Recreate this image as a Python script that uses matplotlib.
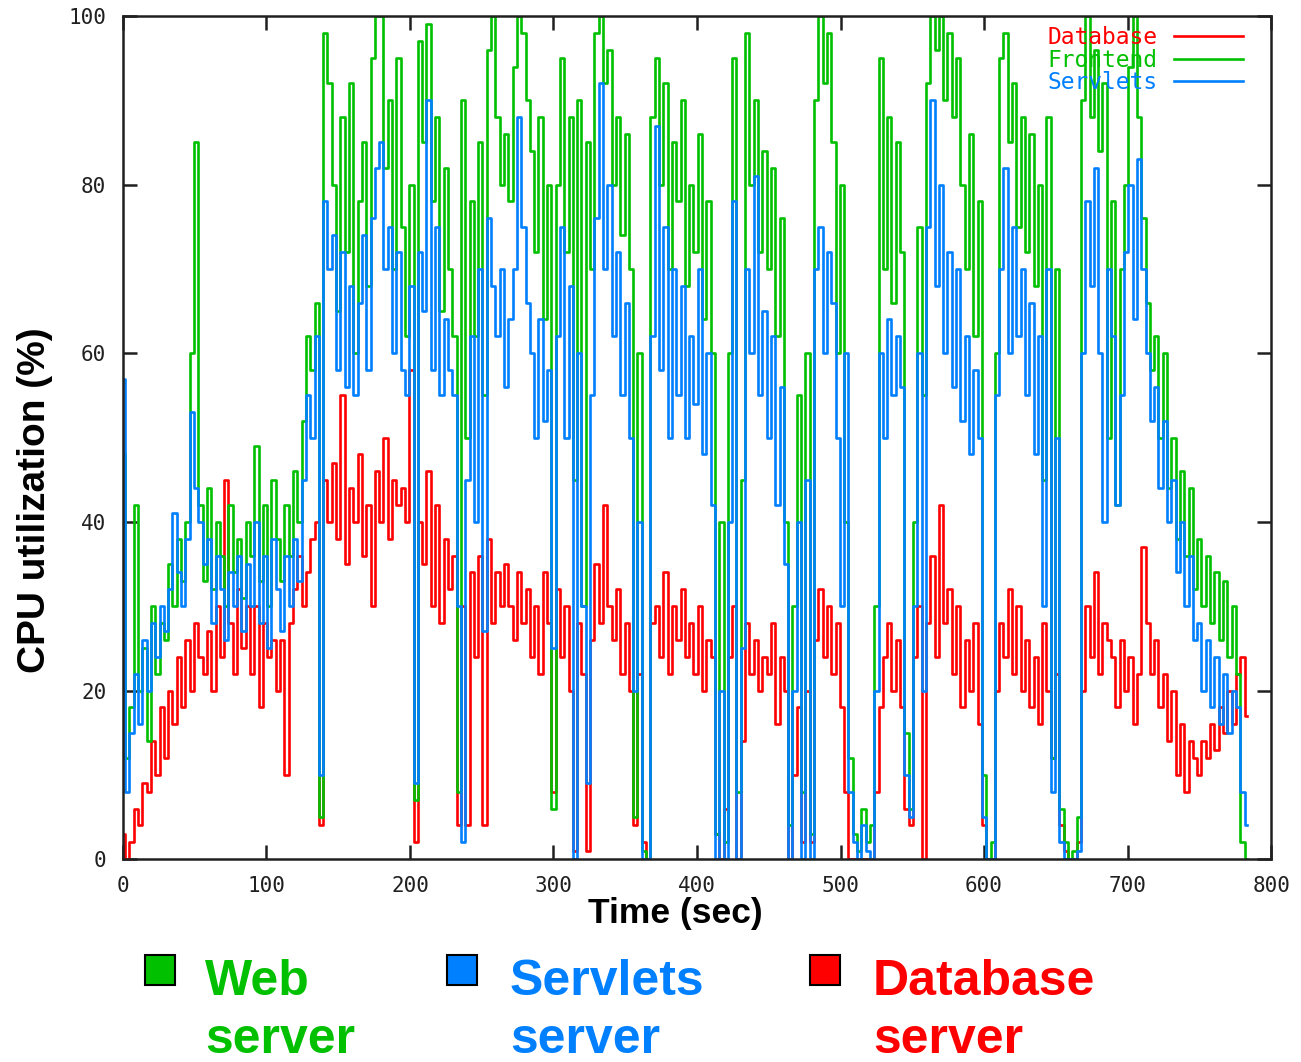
import numpy as np
import matplotlib
matplotlib.use("Agg")
import matplotlib.pyplot as plt
from matplotlib.patches import Rectangle

# CPU utilization samples, one value every 3 seconds
step = 3

frontend = [
    48, 12, 18, 42, 20, 25, 14, 30, 22, 28,
    26, 35, 30, 38, 33, 40, 60, 85, 42, 33,
    44, 32, 40, 36, 30, 42, 34, 38, 31, 40,
    36, 49, 33, 42, 30, 45, 38, 33, 42, 36,
    46, 40, 52, 62, 58, 66, 5, 98, 92, 80,
    65, 88, 72, 92, 60, 78, 85, 68, 95, 100,
    100, 82, 90, 70, 95, 75, 62, 80, 7, 97,
    85, 99, 78, 88, 65, 82, 70, 62, 8, 90,
    50, 78, 62, 85, 55, 96, 100, 88, 80, 86,
    78, 94, 100, 98, 90, 84, 72, 88, 64, 80,
    6, 80, 95, 72, 88, 45, 90, 30, 85, 70,
    98, 100, 92, 96, 80, 88, 74, 86, 70, 5,
    60, 1, 0, 88, 95, 80, 92, 70, 85, 78,
    90, 68, 80, 72, 86, 64, 78, 60, 3, 40,
    2, 60, 95, 8, 45, 98, 80, 90, 72, 84,
    70, 82, 62, 76, 40, 4, 30, 55, 8, 60,
    3, 90, 100, 92, 98, 85, 60, 80, 40, 12,
    3, 1, 6, 2, 4, 30, 95, 70, 88, 66,
    85, 72, 15, 6, 40, 75, 55, 92, 100, 96,
    100, 90, 98, 88, 95, 80, 70, 86, 62, 78,
    10, 0, 2, 60, 95, 98, 85, 92, 75, 88,
    72, 86, 68, 80, 45, 88, 12, 70, 6, 2,
    0, 1, 5, 90, 100, 88, 96, 84, 92, 50,
    78, 42, 70, 80, 94, 100, 88, 76, 66, 58,
    62, 50, 60, 44, 50, 38, 46, 36, 44, 32,
    38, 30, 36, 28, 34, 26, 33, 24, 30, 22,
    2, 0,
]

servlets = [
    57, 8, 15, 22, 16, 26, 20, 28, 24, 30,
    27, 32, 41, 34, 30, 38, 53, 44, 40, 35,
    38, 28, 36, 32, 26, 34, 30, 36, 27, 35,
    30, 40, 28, 36, 25, 38, 32, 27, 36, 30,
    38, 33, 45, 55, 50, 62, 10, 78, 70, 74,
    58, 72, 56, 68, 55, 66, 74, 58, 76, 82,
    85, 70, 75, 60, 72, 58, 55, 68, 9, 72,
    65, 90, 58, 75, 55, 64, 58, 55, 30, 2,
    45, 62, 40, 70, 27, 76, 68, 62, 70, 56,
    64, 70, 88, 75, 66, 60, 50, 64, 52, 58,
    25, 62, 75, 50, 68, 0, 60, 30, 9, 55,
    76, 92, 70, 80, 62, 72, 55, 66, 50, 20,
    40, 0, 0, 62, 87, 58, 75, 50, 70, 55,
    68, 50, 62, 54, 70, 48, 60, 42, 0, 20,
    0, 40, 78, 0, 25, 70, 60, 81, 55, 65,
    50, 62, 42, 56, 35, 0, 20, 40, 0, 45,
    0, 70, 75, 60, 72, 66, 50, 30, 60, 8,
    2, 0, 4, 1, 0, 20, 60, 50, 64, 55,
    62, 56, 10, 5, 30, 60, 20, 75, 90, 68,
    80, 60, 72, 56, 70, 52, 62, 48, 58, 50,
    5, 0, 0, 55, 70, 82, 60, 75, 62, 70,
    55, 66, 48, 62, 30, 70, 8, 50, 2, 0,
    0, 0, 1, 60, 78, 68, 82, 60, 40, 70,
    62, 42, 55, 72, 80, 64, 83, 70, 60, 52,
    56, 44, 52, 40, 45, 34, 40, 30, 36, 26,
    28, 20, 26, 18, 24, 16, 22, 15, 20, 18,
    8, 4,
]

database = [
    3, 0, 2, 6, 4, 9, 8, 14, 10, 18,
    12, 20, 16, 24, 18, 26, 20, 28, 24, 22,
    27, 20, 30, 24, 45, 28, 22, 32, 25, 30,
    22, 30, 18, 28, 24, 26, 20, 26, 10, 28,
    32, 36, 30, 34, 38, 40, 4, 45, 40, 47,
    38, 55, 35, 44, 40, 48, 36, 42, 30, 46,
    40, 50, 38, 45, 42, 44, 40, 58, 2, 40,
    35, 46, 30, 42, 28, 38, 32, 36, 4, 30,
    4, 34, 24, 36, 4, 38, 28, 34, 30, 35,
    30, 26, 34, 28, 32, 24, 30, 22, 34, 28,
    8, 32, 24, 30, 20, 1, 28, 22, 1, 26,
    35, 28, 42, 30, 26, 32, 22, 28, 20, 4,
    22, 2, 0, 28, 30, 24, 34, 22, 30, 26,
    32, 24, 28, 22, 30, 20, 26, 24, 3, 0,
    6, 24, 30, 0, 14, 28, 22, 26, 20, 24,
    22, 28, 16, 24, 20, 0, 10, 18, 2, 20,
    2, 26, 32, 24, 30, 22, 28, 18, 8, 0,
    0, 0, 0, 0, 0, 8, 18, 24, 28, 20,
    26, 18, 6, 4, 24, 30, 0, 28, 36, 24,
    42, 28, 32, 22, 30, 18, 26, 20, 28, 16,
    4, 0, 0, 20, 28, 24, 32, 22, 30, 20,
    26, 18, 24, 16, 28, 20, 12, 22, 4, 1,
    0, 0, 2, 20, 30, 24, 34, 22, 28, 26,
    24, 18, 26, 20, 24, 16, 22, 37, 28, 22,
    26, 18, 22, 14, 20, 10, 16, 8, 14, 12,
    10, 14, 12, 16, 13, 18, 15, 20, 16, 22,
    24, 17,
]

GREEN = "#00c000"
BLUE = "#0080ff"
RED = "#ff0000"

fig = plt.figure(figsize=(13.01, 10.62), dpi=100)
ax = fig.add_axes([0.0945, 0.191, 0.8825, 0.794])

series = [("Database", database, RED), ("Frontend", frontend, GREEN),
          ("Servlets", servlets, BLUE)]
for name, vals, col in series:
    t = np.arange(len(vals)) * step
    ax.plot(t, vals, color=col, lw=1.9, drawstyle="steps-mid", label=name)

ax.set_xlim(0, 800)
ax.set_ylim(0, 100)
ax.set_xticks(np.arange(0, 801, 100))
ax.set_yticks(np.arange(0, 101, 20))
ax.tick_params(direction="in", length=10, width=1.8, top=True, right=True,
               labelsize=15, pad=12, colors="#202020")
for lab in ax.get_xticklabels() + ax.get_yticklabels():
    lab.set_family("DejaVu Sans Mono")
for s in ax.spines.values():
    s.set_linewidth(1.8)
    s.set_color("#202020")

ax.set_xlabel("Time (sec)", family="Liberation Sans", fontweight="bold",
              fontsize=25.5)
ax.xaxis.set_label_coords(0.481, -0.045)
ax.set_ylabel("CPU utilization (%)", family="Liberation Sans", fontweight="bold",
              fontsize=28)
ax.yaxis.set_label_coords(-0.061, 0.426)

ax.legend(loc="upper right", bbox_to_anchor=(0.9756, 0.988), frameon=False,
          markerfirst=False, labelcolor="linecolor", handlelength=3.0,
          handletextpad=0.75, labelspacing=-0.02, borderaxespad=0, borderpad=0,
          prop={"family": "DejaVu Sans Mono", "size": 16.5})

# bottom legend: coloured squares with two-line labels
bottom = [("Web\nserver", GREEN, 145, 205), ("Servlets\nserver", BLUE, 447, 510),
          ("Database\nserver", RED, 810, 873)]
W, H = 1301, 1062
for txt, col, sx, tx in bottom:
    fig.patches.append(Rectangle((sx / W, 1 - 985 / H), 30 / W, 30 / H,
                                 transform=fig.transFigure, facecolor=col,
                                 edgecolor="black", lw=1.5))
    fig.text(tx / W, 1 - 959 / H, txt, color=col, family="Liberation Sans",
             fontweight="bold", fontsize=36, va="top", ha="left",
             linespacing=1.32)

fig.savefig("out.png", dpi=100)
